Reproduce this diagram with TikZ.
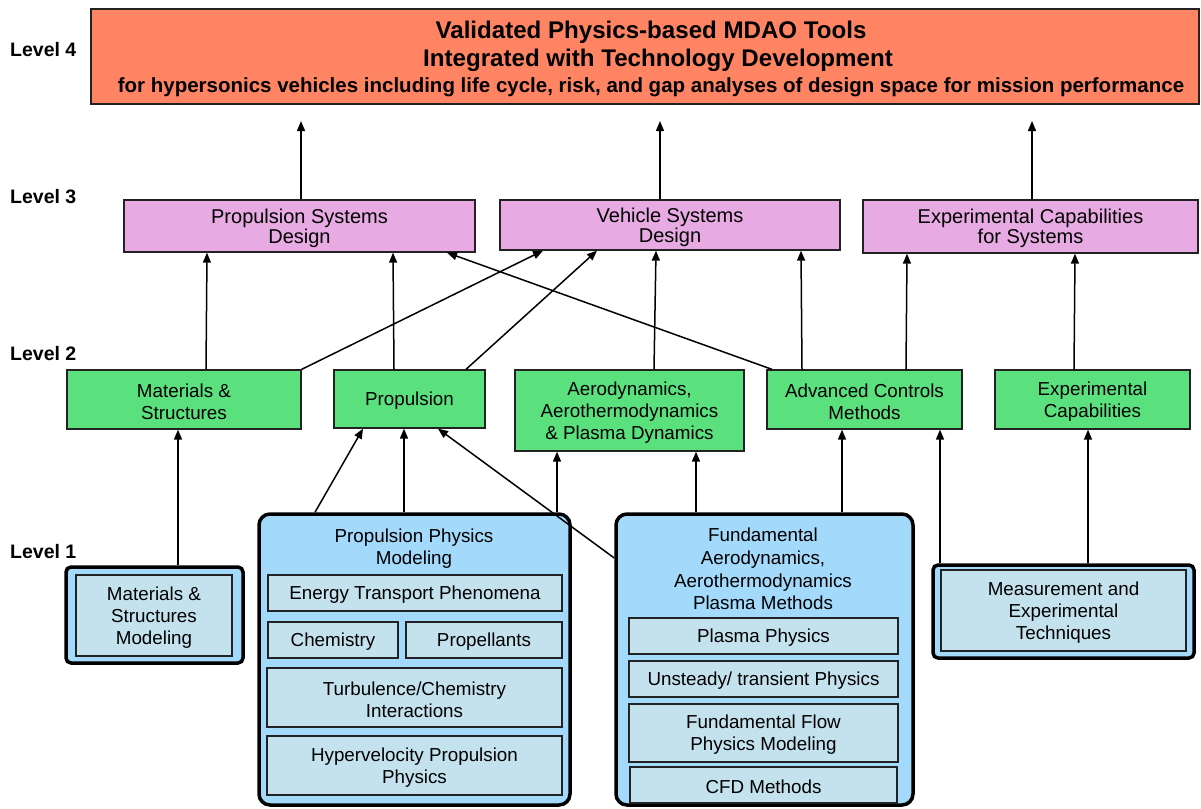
\documentclass[tikz,border=0pt]{standalone}
\usepackage{fontspec}
\setmainfont{Liberation Sans}
\usetikzlibrary{arrows.meta,calc}
\definecolor{cfour}{HTML}{FF8464}
\definecolor{cthree}{HTML}{E8AAE2}
\definecolor{ctwo}{HTML}{5BE07E}
\definecolor{conea}{HTML}{A3D9FA}
\definecolor{coneb}{HTML}{C4E2EE}
\definecolor{edgec}{HTML}{222222}
\newcommand\mybox[7]{%
  \pgfmathsetmacro\bxcx{(#3+#5)/2}%
  \pgfmathsetmacro\bxcy{(#4+#6)/2}%
  \pgfmathsetmacro\bxty{(#4+#6)/2+2}%
  \pgfmathsetmacro\bxww{#5-#3}%
  \pgfmathsetmacro\bxhh{#6-#4}%
  \node[#2, minimum width=\bxww pt, minimum height=\bxhh pt] (#1) at (\bxcx,\bxcy) {};
  \node[txt, #2, draw=none, fill=none] (#1t) at (\bxcx,\bxty) {#7};}
\begin{document}
\begin{tikzpicture}[x=1pt,y=-1pt,
  txt/.style={inner sep=0pt, align=center, font=\fontsize{18.8}{22}\selectfont},
  base/.style={draw=edgec, line width=1.3pt, inner sep=0pt, align=center, font=\fontsize{18.8}{22}\selectfont},
  lfour/.style={base, fill=cfour},
  lthree/.style={base, fill=cthree, font=\fontsize{20}{20}\selectfont},
  ltwo/.style={base, fill=ctwo},
  louter/.style={draw=black, line width=3.5pt, fill=conea, inner sep=0pt},
  linner/.style={base, fill=coneb},
  ttl/.style={inner sep=0pt, font=\bfseries\fontsize{24.1}{28}\selectfont},
  arr/.style={-{Triangle[length=10pt,width=8pt]}, line width=1.5pt, draw=black},
  lvl/.style={font=\bfseries\fontsize{19.5}{22}\selectfont, anchor=west, inner sep=0pt}]
\useasboundingbox (0,0) rectangle (1201,808);
\fill[white] (0,0) rectangle (1201,808);

% level labels
\node[lvl] (lv4) at (10,50) {Level 4};
\node[lvl] (lv3) at (10,197) {Level 3};
\node[lvl] (lv2) at (10,354) {Level 2};
\node[lvl] (lv1) at (10,552) {Level 1};

% level 4
\mybox{top}{lfour}{91}{9}{1199}{104}{}
\node[ttl] (title1) at (651,32) {Validated Physics-based MDAO Tools};
\node[ttl] (title2) at (658,60) {Integrated with Technology Development};
\node[ttl, font=\bfseries\fontsize{20.5}{24}\selectfont] (title3) at (651,87) {for hypersonics vehicles including life cycle, risk, and gap analyses of design space for mission performance};

% level 3
\mybox{psd}{lthree}{124}{200}{475}{252}{Propulsion Systems\\Design}
\mybox{vsd}{lthree}{500}{200}{840}{250}{Vehicle Systems\\Design}
\mybox{ecs}{lthree}{863}{200}{1198}{253}{Experimental Capabilities\\for Systems}

% level 2
\mybox{ms}{ltwo}{67}{370}{301}{429}{Materials \&\\Structures}
\mybox{prop}{ltwo}{334}{370}{485}{428}{Propulsion}
\mybox{aero}{ltwo}{515}{370}{744}{451}{Aerodynamics,\\Aerothermodynamics\\\& Plasma Dynamics}
\mybox{acm}{ltwo}{767}{370}{962}{429}{Advanced Controls\\Methods}
\mybox{ec}{ltwo}{995}{370}{1190}{429}{Experimental\\Capabilities}

% level 1 outer
\mybox{msm}{louter, rounded corners=5pt}{66}{567}{243}{663}{}
\mybox{ppm}{louter, rounded corners=11pt}{259}{514}{570}{805}{}
\mybox{fap}{louter, rounded corners=11pt}{616}{514}{913}{805}{}
\mybox{met}{louter, rounded corners=5pt}{933}{565}{1194}{658}{}

% level 1 inner
\mybox{msmi}{linner}{76}{575}{232}{656}{Materials \&\\Structures\\Modeling}
\node[txt] (ppmtitle) at (414,549) {Propulsion Physics\\Modeling};
\mybox{etp}{linner}{268}{575}{562}{611}{Energy Transport Phenomena}
\mybox{chem}{linner}{268}{622}{398}{658}{Chemistry}
\mybox{prpl}{linner}{406}{622}{562}{658}{Propellants}
\mybox{tci}{linner}{267}{668}{562}{727}{Turbulence/Chemistry\\Interactions}
\mybox{hpp}{linner}{267}{736}{562}{795}{Hypervelocity Propulsion\\Physics}
\node[txt, font=\fontsize{18.8}{22.6}\selectfont] (faptitle) at (763,569) {Fundamental\\Aerodynamics,\\Aerothermodynamics\\Plasma Methods};
\mybox{pp}{linner}{629}{618}{898}{654}{Plasma Physics}
\mybox{utp}{linner}{629}{661}{898}{697}{Unsteady/ transient Physics}
\mybox{ffpm}{linner}{629}{704}{898}{762}{Fundamental Flow\\Physics Modeling}
\mybox{cfd}{linner}{630}{767}{897}{803}{CFD Methods}
\mybox{meti}{linner}{941}{570}{1186}{651}{Measurement and\\Experimental\\Techniques}

% arrows level 3 -> level 4
\coordinate (t1) at (301,121);
\coordinate (t2) at (660,121);
\coordinate (t3) at (1032,121);
\draw[arr] (301,0 |- psd.north) -- (t1);
\draw[arr] (660,0 |- vsd.north) -- (t2);
\draw[arr] (1032,0 |- ecs.north) -- (t3);

% arrows level 2 -> level 3
\draw[arr] (206,0 |- ms.north) -- (207,0 |- psd.south);
\draw[arr] (ms.north east) -- (543,0 |- vsd.south);
\draw[arr] (394,0 |- prop.north) -- (393,0 |- psd.south);
\draw[arr] (466,0 |- prop.north) -- (597,0 |- vsd.south);
\draw[arr] (654,0 |- aero.north) -- (656,0 |- vsd.south);
\draw[arr] (772,0 |- acm.north) -- (447,0 |- psd.south);
\draw[arr] (802,0 |- acm.north) -- (801,0 |- vsd.south);
\draw[arr] (906,0 |- acm.north) -- (907,0 |- ecs.south);
\draw[arr] (1074,0 |- ec.north) -- (1075,0 |- ecs.south);

% arrows level 1 -> level 2
\draw[arr] (178,0 |- msm.north) -- (178,0 |- ms.south);
\draw[arr] (315,0 |- ppm.north) -- (363,0 |- prop.south);
\draw[arr] (404,0 |- ppm.north) -- (404,0 |- prop.south);
\draw[arr] (fap.west |- 0,558) -- (438,0 |- prop.south);
\draw[arr] (557,0 |- fap.north) -- (557,0 |- aero.south);
\draw[arr] (696,0 |- fap.north) -- (696,0 |- aero.south);
\draw[arr] (842,0 |- fap.north) -- (842,0 |- acm.south);
\draw[arr] (940,0 |- met.north) -- (940,0 |- acm.south);
\draw[arr] (1088,0 |- met.north) -- (1088,0 |- ec.south);
\end{tikzpicture}
\end{document}
